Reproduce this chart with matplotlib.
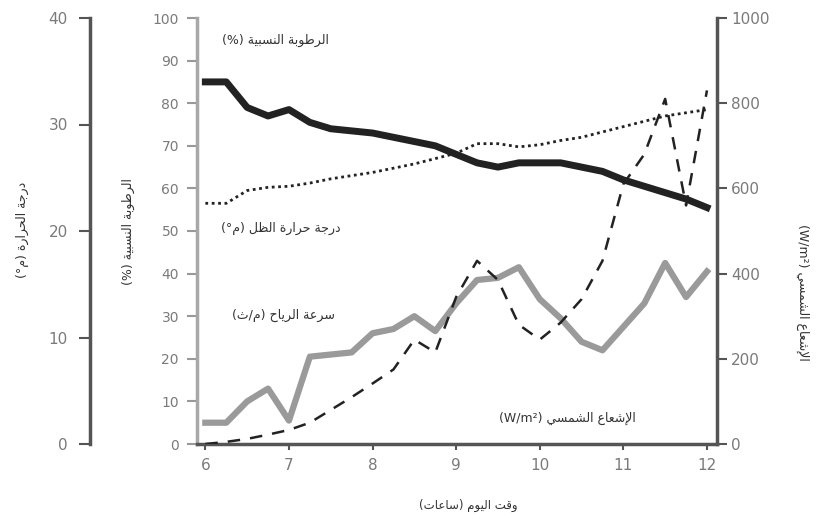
import matplotlib
matplotlib.use("Agg")
import matplotlib.pyplot as plt

plt.rcParams['font.family'] = ['DejaVu Sans']

# ---------------- data ----------------
hours = [6.0, 6.25, 6.5, 6.75, 7.0, 7.25, 7.5, 7.75, 8.0, 8.25, 8.5, 8.75,
         9.0, 9.25, 9.5, 9.75, 10.0, 10.25, 10.5, 10.75, 11.0, 11.25, 11.5, 11.75, 12.0]
humidity = [85, 85, 79, 77, 78.5, 75.5, 74, 73.5, 73, 72, 71, 70,
            68, 66, 65, 66, 66, 66, 65, 64, 62, 60.5, 59, 57.5, 55.5]
shade_temp = [22.6, 22.6, 23.8, 24.1, 24.2, 24.5, 24.9, 25.2, 25.5, 25.9, 26.3, 26.8,
              27.3, 28.2, 28.2, 27.9, 28.1, 28.5, 28.8, 29.3, 29.8, 30.3, 30.8, 31.1, 31.4]
wind_speed = [5, 5, 10, 13, 5.5, 20.5, 21, 21.5, 26, 27, 30, 26.5,
              33, 38.5, 39, 41.5, 34, 29.5, 24, 22, 27.5, 33, 42.5, 34.5, 40.5]
radiation = [0, 5, 12, 22, 33, 50, 80, 110, 142, 175, 245, 215,
             345, 430, 385, 280, 245, 285, 340, 430, 610, 680, 810, 560, 830]

x_ticks = [6, 7, 8, 9, 10, 11, 12]
temp_ticks = [0, 10, 20, 30, 40]
hum_ticks = [0, 10, 20, 30, 40, 50, 60, 70, 80, 90, 100]
rad_ticks = [0, 200, 400, 600, 800, 1000]

# ---------------- minimal Arabic shaping ----------------
AR = {
    'ا': ('\uFE8D', '\uFE8E', None, None),
    'إ': ('\uFE87', '\uFE88', None, None),
    'ب': ('\uFE8F', '\uFE90', '\uFE91', '\uFE92'),
    'ة': ('\uFE93', '\uFE94', None, None),
    'ت': ('\uFE95', '\uFE96', '\uFE97', '\uFE98'),
    'ث': ('\uFE99', '\uFE9A', '\uFE9B', '\uFE9C'),
    'ج': ('\uFE9D', '\uFE9E', '\uFE9F', '\uFEA0'),
    'ح': ('\uFEA1', '\uFEA2', '\uFEA3', '\uFEA4'),
    'د': ('\uFEA9', '\uFEAA', None, None),
    'ر': ('\uFEAD', '\uFEAE', None, None),
    'س': ('\uFEB1', '\uFEB2', '\uFEB3', '\uFEB4'),
    'ش': ('\uFEB5', '\uFEB6', '\uFEB7', '\uFEB8'),
    'ط': ('\uFEC1', '\uFEC2', '\uFEC3', '\uFEC4'),
    'ظ': ('\uFEC5', '\uFEC6', '\uFEC7', '\uFEC8'),
    'ع': ('\uFEC9', '\uFECA', '\uFECB', '\uFECC'),
    'ق': ('\uFED5', '\uFED6', '\uFED7', '\uFED8'),
    'ل': ('\uFEDD', '\uFEDE', '\uFEDF', '\uFEE0'),
    'م': ('\uFEE1', '\uFEE2', '\uFEE3', '\uFEE4'),
    'ن': ('\uFEE5', '\uFEE6', '\uFEE7', '\uFEE8'),
    'و': ('\uFEED', '\uFEEE', None, None),
    'ي': ('\uFEF1', '\uFEF2', '\uFEF3', '\uFEF4'),
}
LAM_ALEF = {'ا': ('\uFEFB', '\uFEFC'), 'إ': ('\uFEF9', '\uFEFA')}


def _dual(c):
    return c in AR and AR[c][2] is not None


def shape(s):
    out = []
    i = 0
    while i < len(s):
        c = s[i]
        if c not in AR:
            out.append(c)
            i += 1
            continue
        prev = s[i - 1] if i > 0 else ''
        jp = _dual(prev)
        if c == 'ل' and i + 1 < len(s) and s[i + 1] in LAM_ALEF:
            out.append(LAM_ALEF[s[i + 1]][1 if jp else 0])
            i += 2
            continue
        nxt = s[i + 1] if i + 1 < len(s) else ''
        jn = _dual(c) and nxt in AR
        iso, fin, ini, med = AR[c]
        if jp and jn:
            g = med
        elif jp:
            g = fin
        elif jn:
            g = ini
        else:
            g = iso
        out.append(g)
        i += 1
    return ''.join(reversed(out))


lbl_hum = '(%) ' + shape('الرطوبة النسبية')
lbl_shade = '(°' + shape('م') + ') ' + shape('درجة حرارة الظل')
lbl_wind = '(' + shape('ث') + '/' + shape('م') + ') ' + shape('سرعة الرياح')
lbl_rad = '(W/m²) ' + shape('الإشعاع الشمسي')
lbl_x = '(' + shape('ساعات') + ') ' + shape('وقت اليوم')
lbl_temp = '(°' + shape('م') + ') ' + shape('درجة الحرارة')

# ---------------- figure ----------------
W, H = 818, 519
fig = plt.figure(figsize=(W / 100, H / 100), dpi=100)
L, R, T, B = 197, 717, 18, 444
ax = fig.add_axes([L / W, 1 - B / H, (R - L) / W, (B - T) / H])
ax.patch.set_alpha(0)

tick_col = '#7a7a7a'
dark = '#555555'

ax.set_xlim(5.9, 12.12)
ax.set_ylim(0, 100)
ax.set_xticks(x_ticks)
ax.set_yticks(hum_ticks)
for s in ['top', 'right']:
    ax.spines[s].set_visible(False)
ax.spines['left'].set_color('#a8a8a8')
ax.spines['left'].set_linewidth(2.5)
ax.spines['bottom'].set_color(dark)
ax.spines['bottom'].set_linewidth(2.5)
ax.tick_params(axis='y', direction='out', length=7, width=1.5, color='#999999',
               labelcolor=tick_col, labelsize=10, pad=6)
ax.tick_params(axis='x', direction='out', length=4, width=1.5, color=dark,
               labelcolor=tick_col, labelsize=11, pad=6)

# temperature axis (far left)
ax_t = ax.twinx()
ax_t.set_ylim(0, 40)
ax_t.yaxis.set_ticks_position('left')
ax_t.yaxis.set_label_position('left')
ax_t.spines['left'].set_position(('axes', (90 - L) / (R - L)))
for s in ['top', 'right', 'bottom']:
    ax_t.spines[s].set_visible(False)
ax_t.spines['left'].set_color(dark)
ax_t.spines['left'].set_linewidth(2.5)
ax_t.set_yticks(temp_ticks)
ax_t.tick_params(axis='y', direction='out', length=8, width=1.5, color=dark,
                 labelcolor=tick_col, labelsize=11, pad=8)

# radiation axis (right)
ax_r = ax.twinx()
ax_r.set_ylim(0, 1000)
for s in ['top', 'left', 'bottom']:
    ax_r.spines[s].set_visible(False)
ax_r.spines['right'].set_color(dark)
ax_r.spines['right'].set_linewidth(2.5)
ax_r.set_yticks(rad_ticks)
ax_r.tick_params(axis='y', direction='out', length=7, width=1.5, color=dark,
                 labelcolor=tick_col, labelsize=11, pad=3)

# ---------------- series ----------------
ax.plot(hours, wind_speed, color='#9a9a9a', lw=4.5, solid_joinstyle='round', zorder=2)
ax.plot(hours, humidity, color='#222222', lw=5, solid_joinstyle='round', zorder=3)
ax_t.plot(hours, shade_temp, color='#222222', lw=2, linestyle=(0, (1, 1.3)), zorder=3)
ax_r.plot(hours, radiation, color='#222222', lw=1.8, linestyle=(0, (5, 4)), zorder=4)

# ---------------- in-plot labels ----------------
txt_col = '#333333'
ax.text(6.84, 94.8, lbl_hum, ha='center', va='center', fontsize=9, color=txt_col)
ax.text(6.9, 50.7, lbl_shade, ha='center', va='center', fontsize=9, color=txt_col)
ax.text(6.93, 30.3, lbl_wind, ha='center', va='center', fontsize=9, color=txt_col)
ax.text(10.33, 6.1, lbl_rad, ha='center', va='center', fontsize=9, color=txt_col)

# axis titles
fig.text(468 / W, 1 - 505 / H, lbl_x, ha='center', va='center', fontsize=8.5, color=txt_col)
fig.text(22 / W, 1 - 230 / H, lbl_temp, ha='center', va='center', rotation=90,
         fontsize=9, color=txt_col)
fig.text(128 / W, 1 - 232 / H, lbl_hum, ha='center', va='center', rotation=90,
         fontsize=9, color=txt_col)
fig.text(803 / W, 1 - 292 / H, lbl_rad, ha='center', va='center', rotation=270,
         fontsize=9, color=txt_col)

fig.savefig('out.png', dpi=100)
